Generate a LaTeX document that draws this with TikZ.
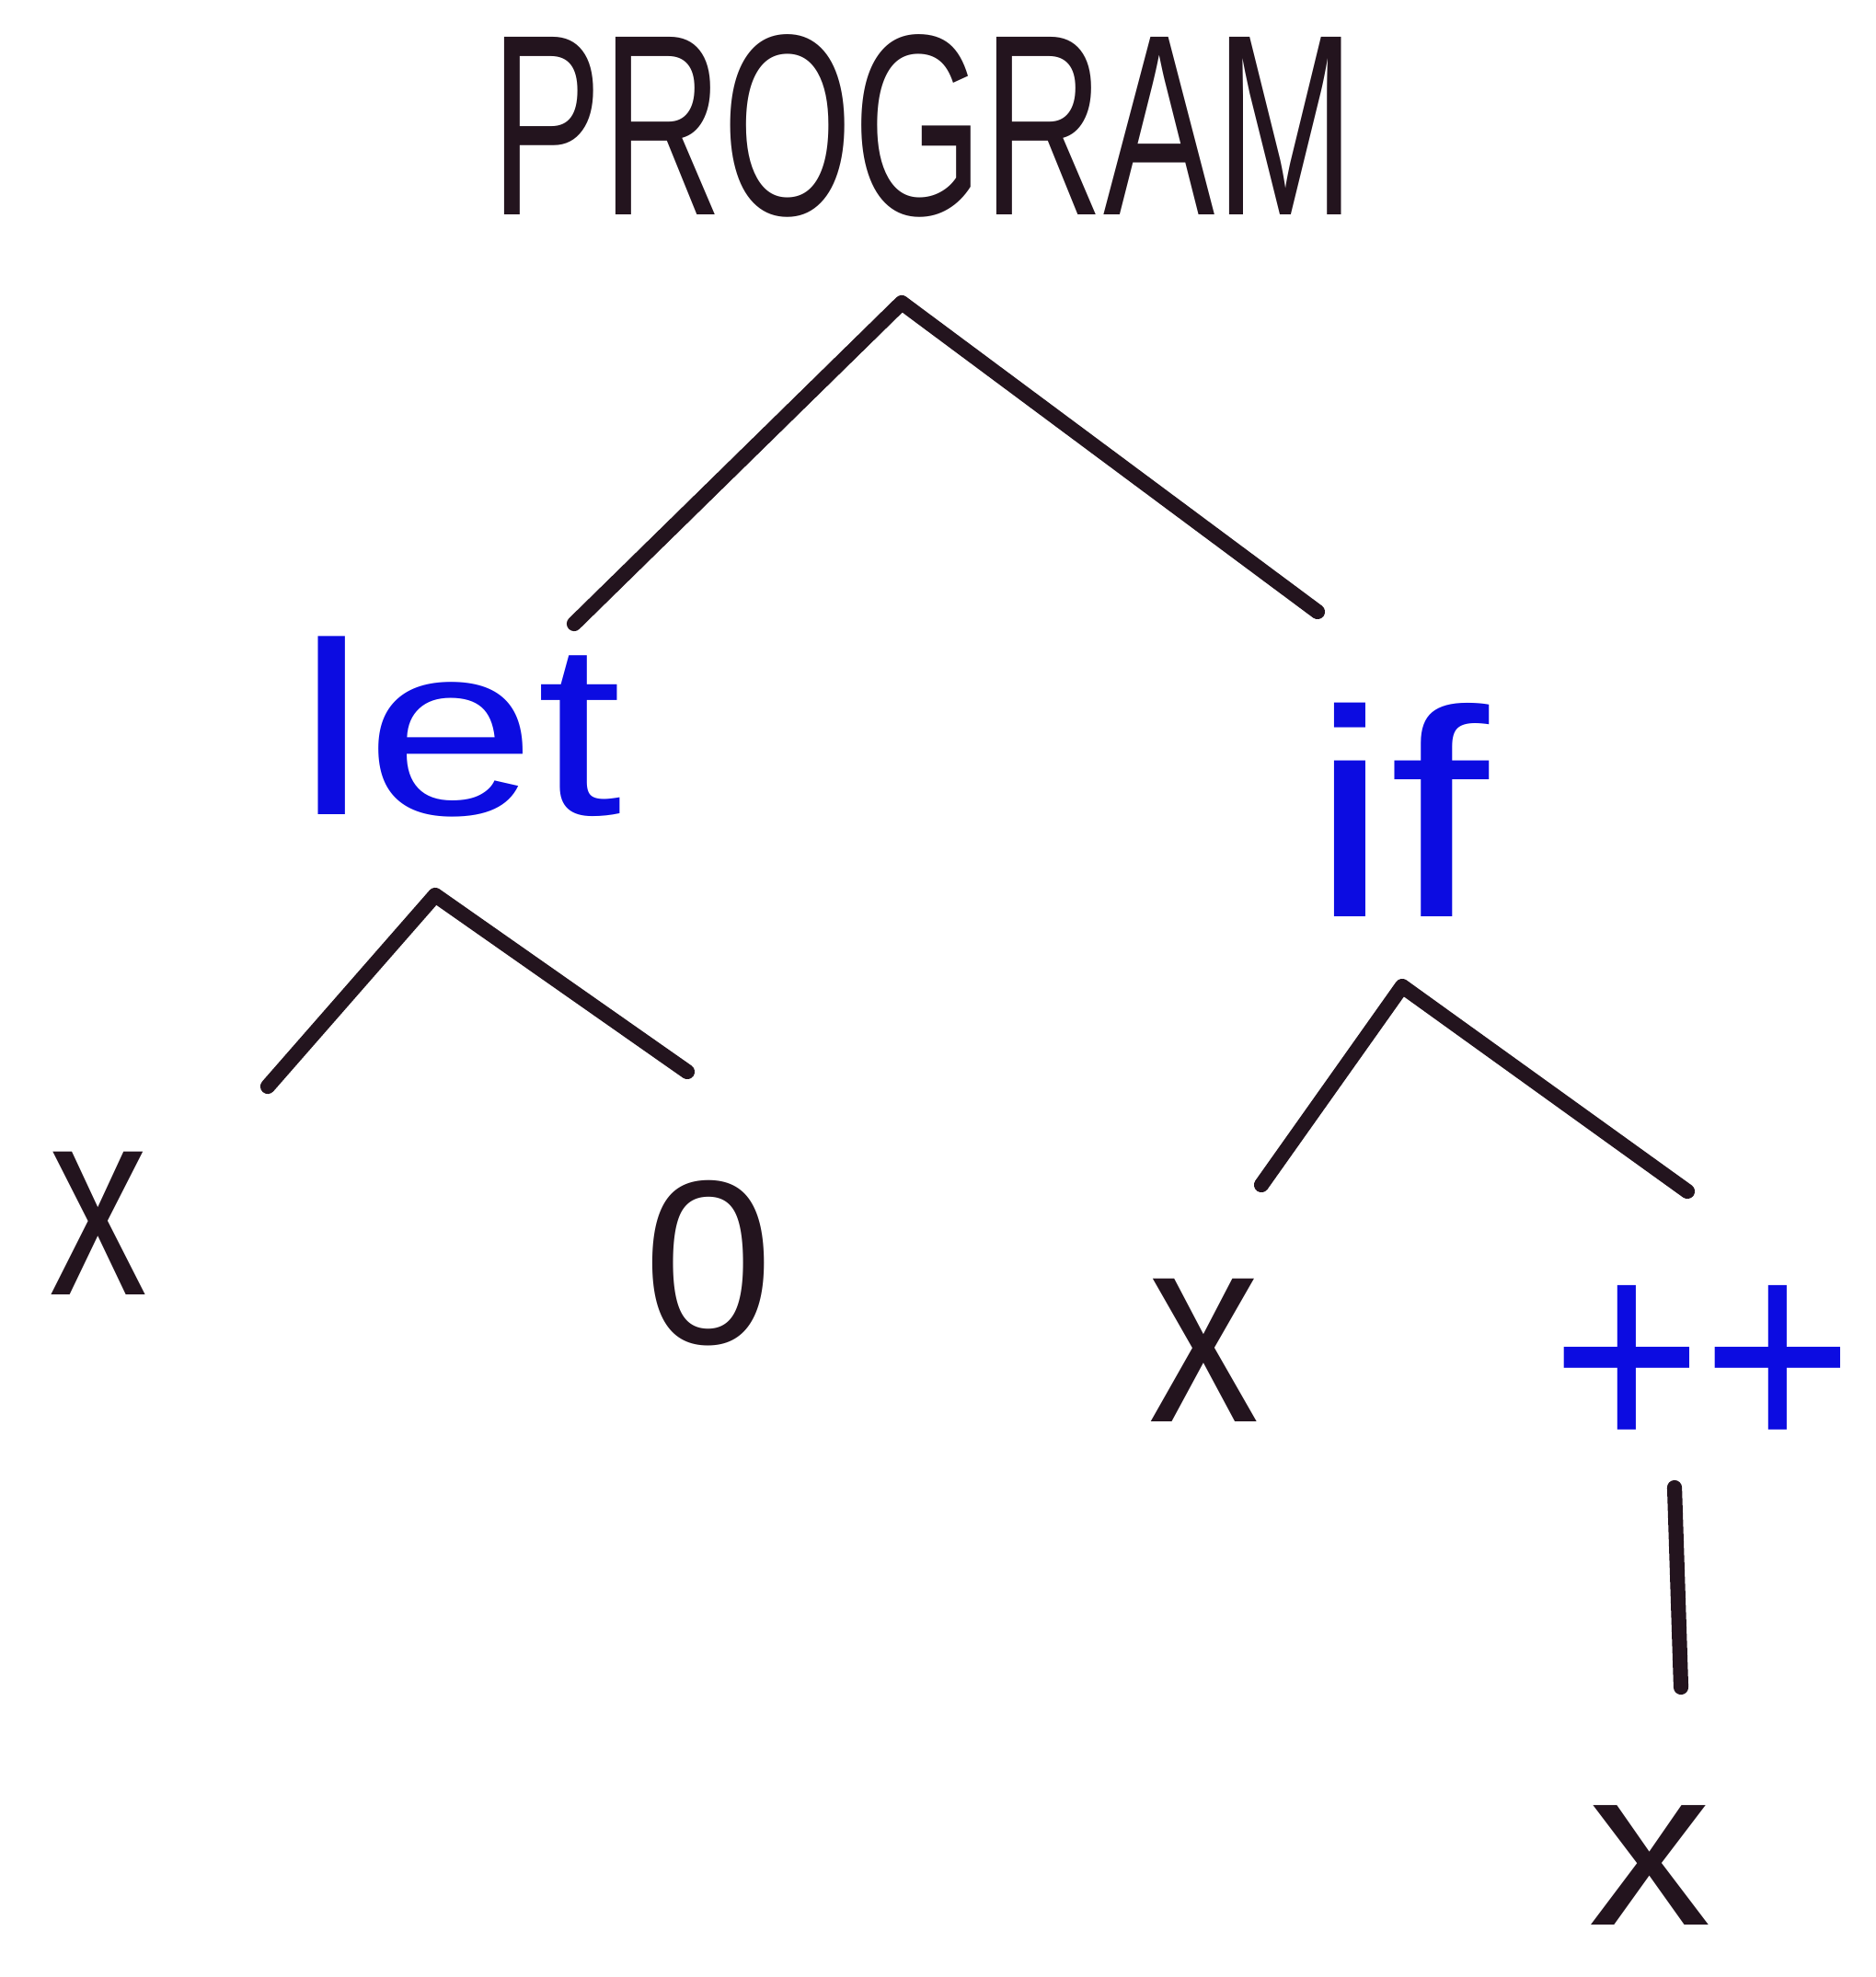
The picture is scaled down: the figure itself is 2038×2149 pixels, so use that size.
\documentclass[tikz,border=0pt]{standalone}
\usepackage{fontspec}
\setmainfont{Liberation Sans}
\usepackage{graphicx}
\usetikzlibrary{positioning}
\definecolor{ink}{RGB}{35,20,30}
\definecolor{inkblue}{RGB}{12,12,225}
\tikzset{x=0.01cm, y=-0.01cm, % one unit is one pixel of the sketch, y runs down
branch/.style={draw=ink, line width=4.6pt, line cap=round, line join=round}, % the tree edges
word/.style={text=ink, inner sep=0pt, font=\fontsize{76}{76}\selectfont}, % black labels
keyword/.style={word, text=inkblue}, % blue keywords
}

\begin{document}
\begin{tikzpicture}
\useasboundingbox (0,0) rectangle (2038,2149);

\node[word] (prog) at (1003,137) {\scalebox{0.68}[1.05]{PROGRAM}};
\node[keyword] (let) at (500,790) {\scalebox{1.25}[1]{let}};
\node[keyword] (if) at (1521,880) {\scalebox{1.45}[1.2]{if}};
\node[word] (x1) at (107,1330) {\scalebox{0.8}[1.1]{x}};
\node[word] (zero) at (770,1373) {\scalebox{0.95}[0.95]{0}};
\node[word] (x2) at (1309,1468) {\scalebox{0.9}[1.1]{x}};
\node[keyword] (pp) at (1850,1490) {\scalebox{1.05}[1.2]{++}};
\node[word] (x3) at (1793,2028) {\scalebox{1}[0.92]{x}};

% branch points
\coordinate (r) at (980,329);
\coordinate (rl) at (624,678);
\coordinate (rr) at (1432,665);
\coordinate (l) at (473,973);
\coordinate (ll) at (291,1181);
\coordinate (lr) at (747,1165);
\coordinate (i) at (1524,1072);
\coordinate (il) at (1371,1288);
\coordinate (ir) at (1834,1295);
\coordinate (pt) at (1820,1617);
\coordinate (pb) at (1827,1834);

\draw[branch] (rl) -- (r) -- (rr);
\draw[branch] (ll) -- (l) -- (lr);
\draw[branch] (il) -- (i) -- (ir);
\draw[branch] (pt) -- (pb);

\end{tikzpicture}
\end{document}
